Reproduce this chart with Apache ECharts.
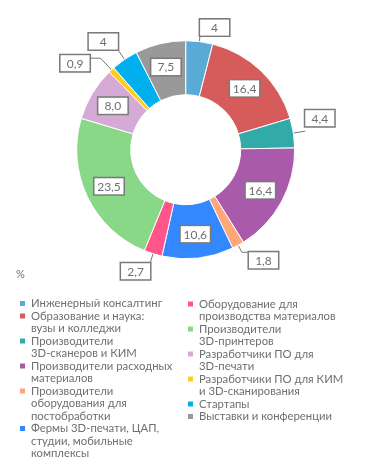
<!DOCTYPE html>
<html>
<head>
<meta charset="utf-8">
<script src="https://cdn.jsdelivr.net/npm/echarts@6/dist/echarts.min.js"></script>
<style>
html,body{margin:0;padding:0;background:#fff;}
#chart{width:371px;height:476px;}
</style>
</head>
<body>
<div id="chart"></div>
<script>
const categories = [
  'Инженерный консалтинг',
  'Образование и наука: вузы и колледжи',
  'Производители 3D-сканеров и КИМ',
  'Производители расходных материалов',
  'Производители оборудования для постобработки',
  'Фермы 3D-печати, ЦАП, студии, мобильные комплексы',
  'Оборудование для производства материалов',
  'Производители 3D-принтеров',
  'Разработчики ПО для 3D-печати',
  'Разработчики ПО для КИМ и 3D-сканирования',
  'Стартапы',
  'Выставки и конференции'
];
const legendLabels = [
  'Инженерный консалтинг',
  'Образование и наука:\nвузы и колледжи',
  'Производители\n3D-сканеров и КИМ',
  'Производители расходных\nматериалов',
  'Производители\nоборудования для\nпостобработки',
  'Фермы 3D-печати, ЦАП,\nстудии, мобильные\nкомплексы',
  'Оборудование для\nпроизводства материалов',
  'Производители\n3D-принтеров',
  'Разработчики ПО для\n3D-печати',
  'Разработчики ПО для КИМ\nи 3D-сканирования',
  'Стартапы',
  'Выставки и конференции'
];
const values = [4, 16.4, 4.4, 16.4, 1.8, 10.6, 2.7, 23.5, 8.0, 0.9, 4, 7.5];
const valueLabels = ['4', '16,4', '4,4', '16,4', '1,8', '10,6', '2,7', '23,5', '8,0', '0,9', '4', '7,5'];
const colors = ['#5aaad6', '#d65b5b', '#31aaa9', '#a95aaa', '#ffa77a', '#3388ff',
                '#ff5588', '#88d888', '#d5aad6', '#ffcc22', '#00b0ee', '#999999'];
const outsideIdx = [0, 2, 4, 6, 9, 10];
const outsideLine = {0: [6, 0], 2: [12, 0], 4: [8, 7], 6: [10, 0], 9: [16, 11], 10: [12, 0]};
const outsideVAlign = {0: 'bottom', 2: 'bottom', 4: 'top', 6: 'top', 9: 'top', 10: 'bottom'};
const outsideDy = {2: -5, 9: -3};
const legendColumns = [[0, 1, 2, 3, 4, 5], [6, 7, 8, 9, 10, 11]];

const FONT = 'Lato, "Open Sans", sans-serif';
const LH = 12.5;
const textGray = '#6f6f6f';

const data = categories.map((name, i) => {
  const outside = outsideIdx.includes(i);
  return {
    name: name,
    value: values[i],
    itemStyle: { color: colors[i] },
    label: { position: outside ? 'outside' : 'inside' },
    labelLine: outside ? { show: true, length: outsideLine[i][0], length2: outsideLine[i][1] } : { show: false }
  };
});

const legends = [];
const colLeft = [18, 186];
const colTop = [303.6, 303.9];
legendColumns.forEach((col, c) => {
  let cum = 0;
  col.forEach(idx => {
    const n = legendLabels[idx].split('\n').length;
    const y = colTop[c] + cum * LH;
    const padded = '\n'.repeat(n - 1) + legendLabels[idx];
    legends.push({
      data: [{ name: categories[idx], icon: 'rect' }],
      left: colLeft[c],
      top: y - (2 * n - 1) * LH / 2,
      padding: 0,
      itemWidth: 7,
      itemHeight: 7,
      selectedMode: false,
      formatter: () => padded,
      textStyle: {
        fontFamily: FONT,
        fontSize: 11.3,
        color: textGray,
        lineHeight: LH
      }
    });
    cum += n;
  });
});

const chart = echarts.init(document.getElementById('chart'), null, { renderer: 'canvas' });
chart.setOption({
  animation: false,
  color: colors,
  title: {
    text: '%',
    left: 16,
    top: 269,
    padding: 0,
    textStyle: { fontFamily: FONT, fontSize: 11, fontWeight: 'normal', color: textGray }
  },
  legend: legends,
  series: [{
    type: 'pie',
    center: [185.7, 149.7],
    radius: [55, 109],
    startAngle: 90,
    clockwise: true,
    avoidLabelOverlap: false,
    itemStyle: { borderColor: '#ffffff', borderWidth: 1 },
    label: {
      show: true,
      distanceToLabelLine: 0,
      formatter: p => '{v|' + valueLabels[p.dataIndex] + '}',
      backgroundColor: '#ffffff',
      borderColor: '#7a7a7a',
      borderWidth: 1.5,
      padding: [2, 2, 1, 2],
      rich: {
        v: { width: 25, height: 13, lineHeight: 13, align: 'center', fontFamily: FONT, fontSize: 12, color: textGray }
      }
    },
    labelLayout: function (params) {
      const i = params.dataIndex;
      if (outsideVAlign[i]) {
        const o = { verticalAlign: outsideVAlign[i] };
        if (outsideDy[i]) o.dy = outsideDy[i];
        return o;
      }
      return {};
    },
    labelLine: { lineStyle: { color: '#777777', width: 1 } },
    emphasis: { disabled: true },
    data: data
  }]
});
</script>
</body>
</html>
